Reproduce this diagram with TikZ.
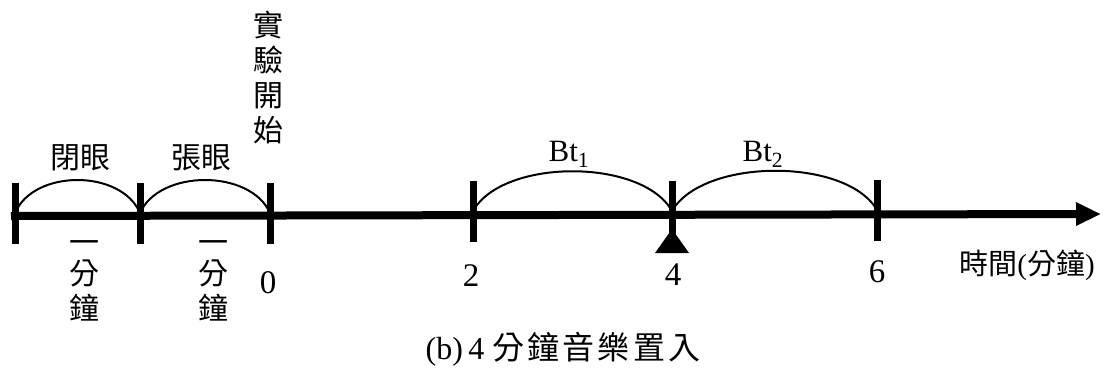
\documentclass[tikz,border=0pt]{standalone}
\usepackage{fontspec}
\setmainfont{Liberation Serif}
\newfontfamily\cjk{Noto Sans CJK TC}
\newfontfamily\cjkwide[LetterSpace=10]{Noto Sans CJK TC}
\usetikzlibrary{arrows.meta,calc}
\begin{document}
\begin{tikzpicture}[x=1pt,y=-1pt,
  axisline/.style={line width=8pt},
  tickbar/.style={fill=black,inner sep=0pt,minimum width=7pt,minimum height=61pt},
  arcline/.style={line width=2pt},
  lbl/.style={font=\fontsize{30}{35}\selectfont\cjk,inner sep=0pt,align=center},
  num/.style={font=\fontsize{33}{34}\selectfont,inner sep=0pt}]
\useasboundingbox (0,0) rectangle (1110,370);
% ticks
\node[tickbar] (t0) at (15,213) {};
\node[tickbar] (t1) at (140,213) {};
\node[tickbar] (t2) at (270,213) {};
\node[tickbar] (t3) at (473,211) {};
\node[tickbar] (t4) at (672,211) {};
\node[tickbar] (t5) at (877,210) {};
% axis
\coordinate (start) at (11,216);
\coordinate (tip) at (1101,214);
\draw[axisline,-{Triangle[length=25pt,width=22pt]}] (start) -- (tip);
% arcs
\draw[arcline] (t0.center) .. controls ($(t0.center)!0.15!(t1.center)+(0,-44)$) and ($(t0.center)!0.85!(t1.center)+(0,-44)$) .. (t1.center);
\draw[arcline] (t1.center) .. controls ($(t1.center)!0.15!(t2.center)+(0,-44)$) and ($(t1.center)!0.85!(t2.center)+(0,-44)$) .. (t2.center);
\draw[arcline] (t3.center) .. controls ($(t3.center)!0.15!(t4.center)+(0,-53)$) and ($(t3.center)!0.85!(t4.center)+(0,-53)$) .. (t4.center);
\draw[arcline] (t4.center) .. controls ($(t4.center)!0.15!(t5.center)+(0,-53)$) and ($(t4.center)!0.85!(t5.center)+(0,-53)$) .. (t5.center);
% marker under 4
\fill ($(t4.center)+(0,18)$) -- ++(17,24) -- ++(-34,0) -- cycle;
% labels above
\node[lbl] (close) at (80,158) {閉眼};
\node[lbl] (open) at (201,158) {張眼};
\node[lbl] (startlbl) at (268,77) {實\\驗\\開\\始};
\node[num,font=\fontsize{31}{34}\selectfont] (bt1) at (569,154) {Bt\textsubscript{1}};
\node[num,font=\fontsize{31}{34}\selectfont] (bt2) at (763,154) {Bt\textsubscript{2}};
% labels below
\node[lbl] (m1) at (84,247) {一};
\node[lbl] (m1b) at (84,290) {分\\鐘};
\node[lbl] (m2) at (213,247) {一};
\node[lbl] (m2b) at (213,290) {分\\鐘};
\node[num] (n0) at (268,283) {0};
\node[num] (n2) at (471,276) {2};
\node[num] (n4) at (673,275) {4};
\node[num] (n6) at (877,272) {6};
\node[lbl,font=\fontsize{29}{30}\selectfont\cjk] (unit) at (1027,265) {時間\rmfamily(\cjk 分鐘\rmfamily)};
% caption
\node[inner sep=0pt,font=\fontsize{32}{36}\selectfont] (cap) at (563,349) {(b)\,4 \cjkwide 分鐘音樂置入};
\end{tikzpicture}
\end{document}
